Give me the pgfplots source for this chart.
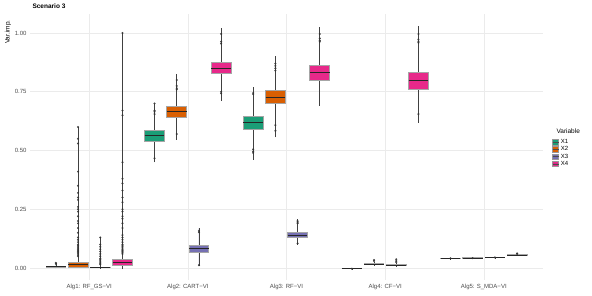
\documentclass[border=0pt]{standalone}
\usepackage{pgfplots}
\pgfplotsset{compat=1.18}
\usepgfplotslibrary{statistics}
\usepackage{fontspec}
\setmainfont{Liberation Sans}
\definecolor{cA}{HTML}{1B9E77}
\definecolor{cB}{HTML}{D95F02}
\definecolor{cC}{HTML}{7570B3}
\definecolor{cD}{HTML}{E7298A}
\definecolor{gridc}{HTML}{EBEBEB}
% #1 position, #2-#6 five numbers, #7 colour, #8 outliers
\newcommand{\bx}[8]{%
\addplot[forget plot, fill=#7, draw=black!80, line width=0.5pt,
  mark=*, mark size=0.8pt, mark options={fill=black!80, draw=black!80, fill opacity=0.8, draw opacity=0.8},
  boxplot/draw direction=y,
  boxplot prepared={draw direction=y, draw position=#1, lower whisker=#2, lower quartile=#3, median=#4,
    upper quartile=#5, upper whisker=#6, box extend=0.2, whisker extend=0},
  boxplot/every box/.style={draw=black!35, line width=0.9pt},
  boxplot/every median/.style={draw=black!85, line width=1pt},
  boxplot/every whisker/.style={draw=black!75, line width=0.6pt}]
coordinates {#8};}
\begin{document}
\begin{tikzpicture}
\useasboundingbox (0,0) rectangle (592pt,296pt);
\begin{axis}[
  at={(30pt,16.25pt)}, anchor=south west,
  scale only axis, width=513pt, height=265.5pt,
  xmin=0.4, xmax=5.6, ymin=-0.05, ymax=1.08,
  axis line style={draw=none},
  tick style={draw=none},
  xtick={1,2,3,4,5},
  xticklabels={Alg1: RF\_GS−VI, Alg2: CART−VI, Alg3: RF−VI, Alg4: CF−VI, Alg5: S\_MDA−VI},
  ytick={0,0.25,0.5,0.75,1},
  yticklabels={0.00,0.25,0.50,0.75,1.00},
  ticklabel style={font=\fontsize{6}{7}\selectfont, text=black!70},
  /pgf/number format/assume math mode=true,
  xticklabel style={yshift=-1pt},
  xmajorgrids, ymajorgrids,
  major grid style={draw=gridc, line width=0.6pt},
  clip=false,
  legend style={at={(1.018,0.477)}, anchor=west, draw=none, fill=none,
    font=\fontsize{6}{7}\selectfont, row sep=-2.5pt, inner sep=0pt},
  legend cell align=left,
  legend image code/.code={\draw[#1, draw=black!40, line width=0.5pt] (0pt,-2.8pt) rectangle (6pt,2.8pt); \draw[black!70, line width=0.4pt] (0pt,0pt) -- (6pt,0pt);},
]
\addlegendimage{fill=cA}\addlegendentry{X1}
\addlegendimage{fill=cB}\addlegendentry{X2}
\addlegendimage{fill=cC}\addlegendentry{X3}
\addlegendimage{fill=cD}\addlegendentry{X4}
% Alg1
\bx{0.6625}{-0.002}{0.003}{0.005}{0.008}{0.022}{cA}{(0,0.018) (0,0.022)}
\bx{0.8875}{0.0}{0.004}{0.013}{0.022}{0.60}{cB}{(0,0.60) (0,0.55) (0,0.53) (0,0.41) (0,0.35) (0,0.32) (0,0.30) (0,0.29) (0,0.26) (0,0.25) (0,0.24) (0,0.22) (0,0.20) (0,0.19) (0,0.17) (0,0.15) (0,0.13) (0,0.12) (0,0.11) (0,0.10) (0,0.095) (0,0.09) (0,0.085) (0,0.08) (0,0.075) (0,0.07) (0,0.065) (0,0.06) (0,0.055) (0,0.05)}
\bx{1.1125}{-0.002}{0.001}{0.002}{0.004}{0.13}{cC}{(0,0.13) (0,0.10) (0,0.09) (0,0.08) (0,0.07) (0,0.06) (0,0.05) (0,0.04) (0,0.035) (0,0.03) (0,0.025) (0,0.02) (0,0.015)}
\bx{1.3375}{-0.006}{0.012}{0.023}{0.035}{1.0}{cD}{(0,1.0) (0,0.67) (0,0.65) (0,0.45) (0,0.38) (0,0.36) (0,0.33) (0,0.30) (0,0.28) (0,0.25) (0,0.24) (0,0.22) (0,0.21) (0,0.19) (0,0.17) (0,0.14) (0,0.13) (0,0.12) (0,0.11) (0,0.10) (0,0.095) (0,0.09) (0,0.085) (0,0.08) (0,0.075) (0,0.07) (0,0.065) (0,0.06)}
% Alg2
\bx{1.6625}{0.45}{0.54}{0.563}{0.585}{0.70}{cA}{(0,0.70) (0,0.67) (0,0.665) (0,0.655) (0,0.467)}
\bx{1.8875}{0.545}{0.641}{0.667}{0.689}{0.826}{cB}{(0,0.80) (0,0.775) (0,0.765) (0,0.76) (0,0.57)}
\bx{2.1125}{0.01}{0.068}{0.083}{0.098}{0.17}{cC}{(0,0.152) (0,0.158) (0,0.012)}
\bx{2.3375}{0.71}{0.826}{0.85}{0.876}{1.02}{cD}{(0,0.996) (0,0.963) (0,0.955) (0,0.743) (0,0.75)}
% Alg3
\bx{2.6625}{0.46}{0.59}{0.618}{0.644}{0.77}{cA}{(0,0.74) (0,0.745) (0,0.505) (0,0.49) (0,0.495)}
\bx{2.8875}{0.556}{0.70}{0.726}{0.754}{0.902}{cB}{(0,0.87) (0,0.86) (0,0.85) (0,0.84) (0,0.608) (0,0.584)}
\bx{3.1125}{0.10}{0.131}{0.14}{0.15}{0.207}{cC}{(0,0.20) (0,0.19) (0,0.195) (0,0.105)}
\bx{3.3375}{0.69}{0.80}{0.833}{0.864}{1.024}{cD}{(0,0.996) (0,0.977) (0,0.968) (0,0.963)}
% Alg4
\bx{3.6625}{-0.005}{-0.004}{-0.003}{-0.002}{-0.001}{cA}{(0,-0.003)}
\bx{3.8875}{0.01}{0.013}{0.016}{0.019}{0.025}{cB}{(0,0.034) (0,0.03)}
\bx{4.1125}{0.006}{0.009}{0.011}{0.013}{0.02}{cC}{(0,0.037) (0,0.03) (0,0.025)}
\bx{4.3375}{0.618}{0.762}{0.80}{0.833}{1.03}{cD}{(0,0.996) (0,0.973) (0,0.965) (0,0.959) (0,0.655)}
% Alg5
\bx{4.6625}{0.038}{0.040}{0.041}{0.042}{0.044}{cA}{(0,0.041)}
\bx{4.8875}{0.039}{0.041}{0.042}{0.043}{0.045}{cB}{(0,0.042)}
\bx{5.1125}{0.041}{0.043}{0.044}{0.045}{0.047}{cC}{(0,0.045)}
\bx{5.3375}{0.052}{0.054}{0.055}{0.057}{0.059}{cD}{(0,0.062) (0,0.06)}
\end{axis}
\node[anchor=west, font=\bfseries\fontsize{6.5}{8}\selectfont] at (29pt,289.5pt) {Scenario 3};
\node[rotate=90, anchor=east, font=\fontsize{6.5}{8}\selectfont] at (8pt,279pt) {Var.imp.};
\node[anchor=west, font=\fontsize{6.5}{8}\selectfont] at (553pt,165pt) {Variable};
\end{tikzpicture}
\end{document}
